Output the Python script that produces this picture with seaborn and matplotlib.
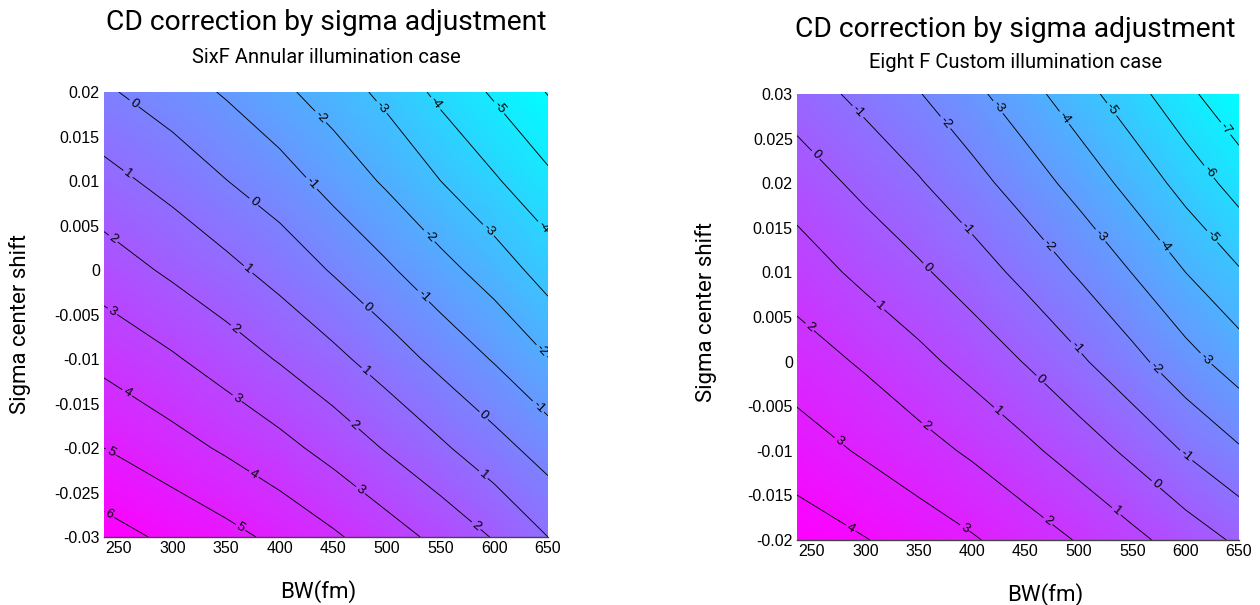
import numpy as np
import matplotlib
matplotlib.use("Agg")
import matplotlib.pyplot as plt
import matplotlib.font_manager as fm
import seaborn as sns
from matplotlib.ticker import FuncFormatter

# left panel: SixF Annular
bw_left = [236, 300, 350, 400, 450, 500, 550, 600, 650]
sigma_left = [-0.03, -0.02, -0.01, 0.0, 0.01, 0.02]
cd_left = [
    [6.40, 5.78, 5.30, 4.76, 4.14, 3.45, 2.72, 1.93, 1.00],
    [5.00, 4.37, 3.86, 3.30, 2.65, 1.91, 1.16, 0.37, -0.45],
    [3.73, 3.11, 2.53, 1.92, 1.25, 0.51, -0.29, -1.08, -1.97],
    [2.51, 1.82, 1.27, 0.63, -0.09, -0.85, -1.67, -2.46, -3.43],
    [1.33, 0.66, 0.02, -0.56, -1.36, -2.15, -3.00, -3.88, -4.78],
    [0.15, -0.54, -1.10, -1.78, -2.48, -3.27, -4.25, -5.14, -6.05],
]
# where the contour numbers sit (BW, sigma)
labels_left = [
    (262, 0.0184), (376, 0.0077), (482, -0.0042), (589, -0.0165),
    (429, 0.0097), (534, -0.0029), (639, -0.0156),
    (437, 0.0171), (539, 0.0038), (642, -0.0093),
    (492, 0.018), (592, 0.0042),
    (546, 0.0188), (642, 0.0044),
    (602, 0.018),
    (256, 0.0104), (372, 0.0003), (481, -0.0113), (589, -0.0231),
    (242, 0.0031), (359, -0.0065), (469, -0.0175), (582, -0.0289),
    (242, -0.005), (362, -0.0141), (476, -0.0246),
    (257, -0.0139), (376, -0.0229),
    (241, -0.0207), (364, -0.0288),
    (239, -0.0279),
]

# right panel: Eight F Custom
bw_right = [236, 300, 350, 400, 450, 500, 550, 600, 650]
sigma_right = [-0.02, -0.01, 0.0, 0.01, 0.02, 0.03]
cd_right = [
    [4.53, 4.04, 3.57, 3.10, 2.53, 1.93, 1.26, 0.55, -0.17],
    [3.48, 2.87, 2.38, 1.85, 1.23, 0.54, -0.22, -1.08, -1.88],
    [2.50, 1.86, 1.27, 0.64, -0.05, -0.84, -1.70, -2.63, -3.48],
    [1.52, 0.74, 0.17, -0.51, -1.28, -2.11, -3.02, -4.00, -4.90],
    [0.54, -0.26, -0.91, -1.65, -2.47, -3.36, -4.33, -5.36, -6.41],
    [-0.47, -1.29, -1.95, -2.74, -3.62, -4.59, -5.61, -6.74, -7.80],
]
labels_right = [
    (292, 0.0279), (396, 0.015), (497, 0.0015), (600, -0.0106),
    (375, 0.0268), (472, 0.013), (572, -0.0007),
    (424, 0.0285), (520, 0.0141), (618, 0.0002),
    (487, 0.0274), (579, 0.0128),
    (531, 0.0283), (622, 0.0137),
    (621, 0.0212),
    (635, 0.0259),
    (253, 0.0231), (359, 0.0107), (464, -0.002), (572, -0.0138),
    (315, 0.0064), (424, -0.0056), (535, -0.0168),
    (246, 0.0036), (358, -0.0071), (471, -0.0179),
    (275, -0.009), (393, -0.0187),
    (285, -0.0189),
]

x_ticks = [250, 300, 350, 400, 450, 500, 550, 600, 650]
title = "CD correction by sigma adjustment"
subtitles = ["SixF Annular illumination case", "Eight F Custom illumination case"]

sns.set_style("white")
plt.rcParams["font.family"] = ["Liberation Sans", "DejaVu Sans"]
plt.rcParams["text.color"] = "black"
plt.rcParams["axes.labelcolor"] = "black"

installed = {f.name for f in fm.fontManager.ttflist}
if "Liberation Sans Narrow" in installed:
    narrow = ["Liberation Sans Narrow", "DejaVu Sans"]
    fs_title, fs_sub, fs_lab = 23, 15.5, 17
else:
    narrow = ["Roboto", "Liberation Sans", "DejaVu Sans"]
    fs_title, fs_sub, fs_lab = 20.3, 14.5, 16

cmap = sns.color_palette("cool", as_cmap=True)


def sig_fmt(v, pos):
    v = round(v, 4)
    if abs(v) < 1e-9:
        return "0"
    return "%g" % v


def draw_panel(ax, bw, sigma, cd, ylim, label_pos):
    X, Y = np.meshgrid(bw, sigma)
    Z = np.array(cd)
    ax.pcolormesh(X, Y, Z, cmap=cmap, shading="gouraud",
                  vmin=Z.min(), vmax=Z.max())
    levels = np.arange(np.ceil(Z.min()), np.floor(Z.max()) + 1)
    cs = ax.contour(X, Y, Z, levels=levels, colors="k", linewidths=0.65,
                    linestyles="solid")
    ax.clabel(cs, fmt="%d", fontsize=9.5, inline=True, inline_spacing=2,
              manual=label_pos)
    ax.set_xlim(236, 650)
    ax.set_ylim(*ylim)
    ax.set_xticks(x_ticks)
    ax.set_yticks(np.arange(ylim[0], ylim[1] + 1e-9, 0.005))
    ax.yaxis.set_major_formatter(FuncFormatter(sig_fmt))
    ax.tick_params(length=0, labelsize=11.5, pad=3, colors="black")
    for s in ["top", "left", "right"]:
        ax.spines[s].set_visible(False)
    ax.spines["bottom"].set_color("#444444")
    ax.spines["bottom"].set_linewidth(1.0)
    ax.set_xlabel("BW(fm)", fontsize=fs_lab, family=narrow)
    ax.set_ylabel("Sigma center shift", fontsize=fs_lab, family=narrow)


fig = plt.figure(figsize=(12.6, 6.05), dpi=100)
ax1 = fig.add_axes([0.0825, 0.1124, 0.3524, 0.7355])
ax2 = fig.add_axes([0.6325, 0.1074, 0.3508, 0.7372])

draw_panel(ax1, bw_left, sigma_left, cd_left, (-0.03, 0.02), labels_left)
draw_panel(ax2, bw_right, sigma_right, cd_right, (-0.02, 0.03), labels_right)

ax1.xaxis.set_label_coords(0.482, -0.097)
ax1.yaxis.set_label_coords(-0.165, 0.479)
ax2.xaxis.set_label_coords(0.561, -0.096)
ax2.yaxis.set_label_coords(-0.18, 0.511)

fig.text(0.259, 0.962, title, ha="center", va="center", fontsize=fs_title, family=narrow)
fig.text(0.259, 0.905, subtitles[0], ha="center", va="center", fontsize=fs_sub, family=narrow)
fig.text(0.806, 0.952, title, ha="center", va="center", fontsize=fs_title, family=narrow)
fig.text(0.806, 0.897, subtitles[1], ha="center", va="center", fontsize=fs_sub, family=narrow)

fig.savefig("out.png", dpi=100)
